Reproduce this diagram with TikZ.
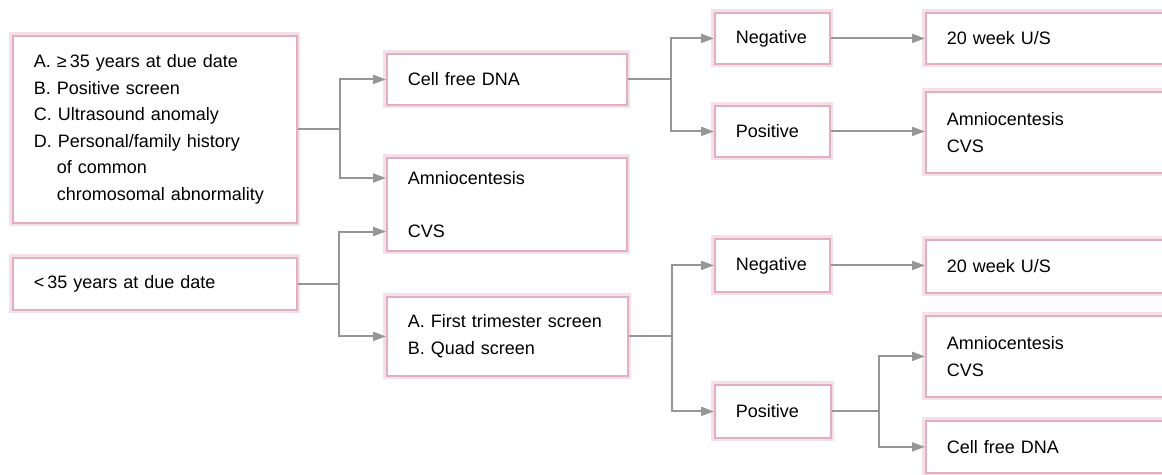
\documentclass[tikz,border=0pt]{standalone}
\usepackage{fontspec}
\setmainfont{Liberation Sans}
\usetikzlibrary{arrows.meta,calc}
\definecolor{boxpink}{RGB}{226,174,195}
\definecolor{boxglow}{RGB}{245,224,232}
\definecolor{conngray}{RGB}{150,150,150}
\tikzset{
  box/.style={draw=boxpink, line width=1.8pt, fill=white, rectangle, anchor=north west,
    preaction={draw=boxglow, line width=7pt},
    inner xsep=21pt, inner ysep=2pt, align=left,
    font=\fontsize{18pt}{26.5pt}\selectfont, text=black},
  ln/.style={draw=conngray, line width=2pt},
  arr/.style={ln, -{Triangle[length=13pt,width=9pt]}},
}
\newcommand{\bx}[7]{% name, x, y, w, h, text width, text
  \node[box, minimum width=#4pt, minimum height=#5pt, text width=#6pt] (#1) at (#2,#3) {#7};}
\begin{document}
\begin{tikzpicture}[x=1pt,y=-1pt]
\useasboundingbox (0,0) rectangle (1162,474);
\clip (0,0) rectangle (1162,474);
% left column
\bx{crit}{12}{35}{284}{187}{242}{A. ≥\thinspace 35 years at due date\\B. Positive screen\\C. Ultrasound anomaly\\D. Personal/family history\\\hspace*{23pt}of common\\\hspace*{23pt}chromosomal abnormality}
\bx{young}{12}{257}{284}{52}{242}{<\thinspace 35 years at due date}
% second column
\bx{cfdna}{386}{53}{240}{51}{198}{Cell free DNA}
\bx{invas}{386}{157}{240}{93}{198}{Amniocentesis\\[26.5pt]CVS}
\bx{screen}{386}{296}{241}{79}{199}{A. First trimester screen\\B. Quad screen}
% third column
\bx{neg1}{714}{12}{115}{51}{73}{Negative}
\bx{pos1}{714}{105}{115}{51}{73}{Positive}
\bx{neg2}{714}{238}{115}{53}{73}{Negative}
\bx{pos2}{714}{384}{116}{53}{74}{Positive}
% right column (cut by the page edge)
\bx{us1}{925}{12}{270}{51}{228}{20 week U/S}
\bx{inv1}{925}{91}{270}{81}{228}{Amniocentesis\\CVS}
\bx{us2}{925}{239}{270}{53}{228}{20 week U/S}
\bx{inv2}{925}{315}{270}{81}{228}{Amniocentesis\\CVS}
\bx{cf2}{925}{420}{270}{52}{228}{Cell free DNA}
% connectors
\draw[ln] (crit.east) -- ++(42,0) coordinate (jA);
\draw[arr] (jA) |- (cfdna.west);
\draw[arr] (jA) |- ($(invas.north west)+(0,21)$);
\draw[ln] (young.east) -- ++(41,0) coordinate (jB);
\draw[arr] (jB) |- ($(invas.north west)+(0,74.5)$);
\draw[arr] (jB) |- (screen.west);
\draw[ln] (cfdna.east) -- ++(43,0) coordinate (jC);
\draw[arr] (jC) |- (neg1.west);
\draw[arr] (jC) |- (pos1.west);
\draw[arr] (neg1.east) -- (neg1.east -| us1.west);
\draw[arr] (pos1.east) -- (pos1.east -| inv1.west);
\draw[ln] (screen.east) -- ++(43,0) coordinate (jD);
\draw[arr] (jD) |- (neg2.west);
\draw[arr] (jD) |- (pos2.west);
\draw[arr] (neg2.east) -- (neg2.east -| us2.west);
\draw[ln] (pos2.east) -- ++(47,0) coordinate (jE);
\draw[arr] (jE) |- (inv2.west);
\draw[arr] (jE) |- (cf2.west);
\end{tikzpicture}
\end{document}
